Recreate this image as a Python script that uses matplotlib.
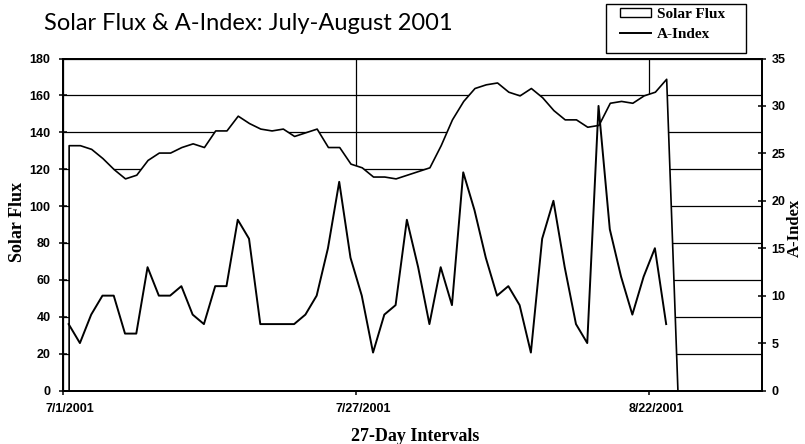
"""Solar flux (area) and A-index (line), daily values 7/1-8/23/2001."""
import matplotlib
matplotlib.use("Agg")
import matplotlib.pyplot as plt
from matplotlib.patches import Patch, Rectangle
from matplotlib.lines import Line2D

# one category per day from 7/1/2001; the axis runs through 8/31 (62 days)
days = list(range(54))
solar_flux = [133, 133, 131, 126, 120, 115, 117, 125, 129, 129, 132, 134, 132, 141, 141, 149, 145, 142,
              141, 142, 138, 140, 142, 132, 132, 123, 121, 116, 116, 115, 117, 119, 121, 133, 147, 157,
              164, 166, 167, 162, 160, 164, 159, 152, 147, 147, 143, 144, 156, 157, 156, 160, 162, 169]
a_index = [7, 5, 8, 10, 10, 6, 6, 13, 10, 10, 11, 8, 7, 11, 11, 18, 16, 7,
           7, 7, 7, 8, 10, 15, 22, 14, 10, 4, 8, 9, 18, 13, 7, 13, 9, 23,
           19, 14, 10, 11, 9, 4, 16, 20, 13, 7, 5, 30, 17, 12, 8, 12, 15, 7]
n_days = 62
tick_days = [0, 26, 52]
tick_labels = ["7/1/2001", "7/27/2001", "8/22/2001"]

SANS = "Liberation Sans"; SERIF = "Liberation Serif"
W, H = 805, 444
def fx(px): return px / W
def fy(py): return 1 - py / H

fig = plt.figure(figsize=(W/100, H/100), dpi=100)
ax = fig.add_axes([fx(63), fy(390.5), 699/W, 332/H])

# points sit in the middle of each day's slot; the area chart treats the blank day after the data as 0
x = [d + 0.5 for d in days]
x_area = x + [x[-1] + 1]
flux_area = solar_flux + [0]
ax.fill_between(x_area, flux_area, 0, facecolor="white", edgecolor="black", lw=1.2, zorder=2)

ax.set_xlim(0, n_days)
ax.set_ylim(0, 180)
ax.set_yticks(range(0, 181, 20))
ax.set_xticks(tick_days)
ax.set_xticklabels([])
ax.set_xticks([d + 0.65 for d in tick_days], minor=True)
ax.set_xticklabels(tick_labels, minor=True)
ax.set_axisbelow(True)
ax.grid(True, which="major", color="black", lw=0.9)
ax.tick_params(axis="both", which="major", direction="inout", length=6, width=1.1)
ax.tick_params(axis="x", which="minor", length=0, pad=9)
ax.tick_params(axis="y", pad=6)
for lab in ax.get_yticklabels() + ax.get_xticklabels(minor=True):
    lab.set_fontfamily(SANS); lab.set_fontweight("bold"); lab.set_fontsize(9)

ax2 = ax.twinx()
ax2.plot(x, a_index, color="black", lw=1.4, zorder=3)
ax2.set_ylim(0, 35)
ax2.set_yticks(range(0, 36, 5))
ax2.tick_params(axis="y", direction="inout", length=6, width=1.1, pad=4)
for lab in ax2.get_yticklabels():
    lab.set_fontfamily(SANS); lab.set_fontweight("bold"); lab.set_fontsize(9)
for a in (ax, ax2):
    for s in a.spines.values():
        s.set_color("black"); s.set_linewidth(1.3)

fig.text(fx(18), fy(222), "Solar Flux", rotation=90, ha="center", va="center",
         family=SERIF, weight="bold", fontsize=13)
fig.text(fx(795), fy(228), "A-Index", rotation=90, ha="center", va="center",
         family=SERIF, weight="bold", fontsize=12)
fig.text(fx(415), fy(436), "27-Day Intervals", ha="center", va="center",
         family=SERIF, weight="bold", fontsize=13)
fig.text(fx(44), fy(23), "Solar Flux & A-Index: July-August 2001", ha="left", va="center",
         family="Lato", fontsize=17)

# legend: Excel-style box with the entries sitting at its left side
fig.patches.append(Rectangle((fx(606), fy(53)), 140/W, 49/H, transform=fig.transFigure,
                             facecolor="white", edgecolor="black", lw=1.0, zorder=5))
handles = [Patch(facecolor="white", edgecolor="black", lw=1.0), Line2D([], [], color="black", lw=1.4)]
fig.legend(handles, ["Solar Flux", "A-Index"], loc="upper left",
           bbox_to_anchor=(fx(620), fy(8)), frameon=False, borderpad=0, borderaxespad=0,
           labelspacing=0.45, handlelength=2.0, handleheight=0.5, handletextpad=0.4,
           prop={"family": SERIF, "weight": "bold", "size": 11})

fig.savefig("out.png", dpi=100)
